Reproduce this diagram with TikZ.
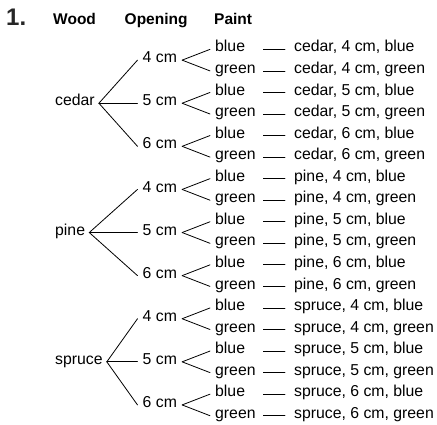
\documentclass[tikz,border=0pt]{standalone}
\usepackage{fontspec}
\setmainfont{Liberation Sans}
\begin{document}
\begin{tikzpicture}[x=1pt,y=-1pt,
  txt/.style={font=\fontsize{15.8}{18}\selectfont, inner sep=0pt, anchor=base west},
  head/.style={txt, font=\fontsize{15.5}{18}\selectfont\bfseries},
  num/.style={txt, font=\fontsize{24}{28}\selectfont\bfseries, text=black!85},
  paintlbl/.style={txt, text width=45pt, align=left},
  branch/.style={line width=0.8pt, line cap=round}]
\useasboundingbox (0,0) rectangle (437,425);

% headings
\node[num]  (n1)    at (6,26) {1.};
\node[head] (hwood) at (53,25)  {Wood};
\node[head] (hopen) at (124.5,25) {Opening};
\node[head] (hpnt)  at (214,25) {Paint};

% tree: wood -> opening -> paint -> outcome
\foreach \w [count=\wi from 0] in {cedar,pine,spruce} {
  \pgfmathsetmacro\wy{52+21.55*(6*\wi+2.5)}
  \node[txt] (w\wi) at (55,\wy) {\w};
  \foreach \o [count=\oi from 0] in {4,5,6} {
    \pgfmathsetmacro\oy{52+21.55*(6*\wi+2*\oi+0.5)}
    \node[txt] (o\wi\oi) at (142.5,\oy) {\o\ cm};
    \draw[branch] ([xshift=4pt]w\wi.mid east) -- ([xshift=-5pt]o\wi\oi.mid west);
    \foreach \p [count=\k from 0] in {blue,green} {
      \pgfmathsetmacro\py{52+21.55*(6*\wi+2*\oi+\k)}
      \node[paintlbl] (p\wi\oi\k) at (215,\py) {\p};
      \draw[branch] ([xshift=5pt]o\wi\oi.mid east) -- ([xshift=-5pt]p\wi\oi\k.mid west);
      \node[txt] (r\wi\oi\k) at (294,\py) {\w, \o\ cm, \p};
      \draw[branch] ([xshift=3pt]p\wi\oi\k.mid east) -- ([xshift=-9pt]r\wi\oi\k.mid west);
    }
  }
}
\end{tikzpicture}
\end{document}
